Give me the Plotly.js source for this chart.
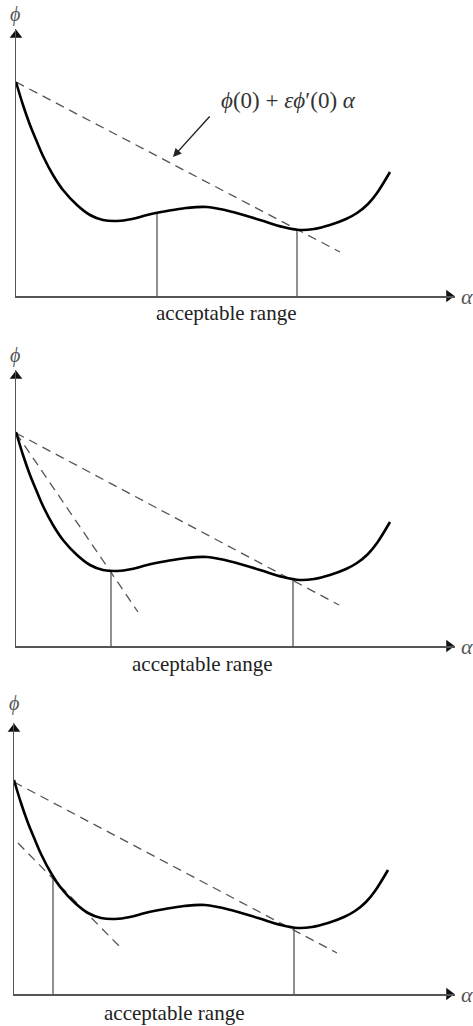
<!DOCTYPE html>
<html>
<head>
<meta charset="utf-8">
<script src="https://cdn.plot.ly/plotly-3.0.1.min.js"></script>
<style>html,body{margin:0;padding:0;background:#fff;}#chart{width:473px;height:1026px;}</style>
</head>
<body>
<div id="chart"></div>
<script>
// phi(alpha) curve (same function in all three panels)
const curveX = [0, 7, 14, 21, 27, 37, 47, 61, 74, 87, 101, 116, 131, 151, 170, 191, 217, 244, 267, 284, 298, 314, 330, 341, 352, 361, 374];
const curveY = [214, 191, 171, 154, 140, 121, 106, 91, 81, 76, 75, 77, 81, 85, 88, 89, 84, 76, 69, 66, 67, 71, 77, 83, 92, 103, 124];

// sufficient decrease line phi(0) + eps*phi'(0)*alpha
const p1LineX = [0, 324], p1LineY = [214, 44];
const p2LineX = [0, 323], p2LineY = [213, 41];
const p3LineX = [0, 323], p3LineY = [212, 41];
// curvature / tangent lines
const p2SteepX = [0, 122], p2SteepY = [213, 34];
const p3TangX = [4, 106], p3TangY = [151, 47];

// acceptable range boundaries (alpha, phi)
const p1RangeX = [141, 281], p1RangeY = [83, 66];
const p2RangeX = [95, 277], p2RangeY = [75, 66];
const p3RangeX = [39, 280], p3RangeY = [119, 66];

const rangeLabel = "acceptable range";
const formula = "<i>ϕ</i>(0) + <i>ε</i><i>ϕ</i>′(0) <i>α</i>";
const yLabel = "<i>ϕ</i>";
const xLabel = "<i>α</i>";

const W = 473, H = 1026;
const serif = '"Liberation Serif", "Times New Roman", serif';
const axisCol = '#555';

// panel geometry (pixels): origin, axis lengths, label positions
const panels = [
  {x0: 16, y0: 296, xl: 439, yl: 267, sx: '', line: [p1LineX, p1LineY], extra: null, range: [p1RangeX, p1RangeY], lab: [226, 313], phi: [15, 15]},
  {x0: 16, y0: 646, xl: 439, yl: 276, sx: '2', line: [p2LineX, p2LineY], extra: [p2SteepX, p2SteepY], range: [p2RangeX, p2RangeY], lab: [202, 664], phi: [15, 355]},
  {x0: 14, y0: 994, xl: 441, yl: 271, sx: '3', line: [p3LineX, p3LineY], extra: [p3TangX, p3TangY], range: [p3RangeX, p3RangeY], lab: [174, 1013], phi: [14, 703]}
];

const traces = [];
const layout = {
  width: W, height: H,
  margin: {l: 0, r: 0, t: 0, b: 0},
  paper_bgcolor: '#fff', plot_bgcolor: 'rgba(0,0,0,0)',
  showlegend: false,
  annotations: []
};
const px = x => x / W, py = y => 1 - y / H;

panels.forEach(p => {
  const xa = 'x' + p.sx, ya = 'y' + p.sx;
  const axCommon = {showgrid: false, zeroline: false, showticklabels: false, ticks: '', showline: true, linecolor: axisCol, linewidth: 1.5, fixedrange: true};
  layout['xaxis' + p.sx] = Object.assign({}, axCommon, {domain: [p.x0 / W, (p.x0 + p.xl) / W], range: [0, p.xl], anchor: ya});
  layout['yaxis' + p.sx] = Object.assign({}, axCommon, {domain: [(H - p.y0) / H, (H - p.y0 + p.yl) / H], range: [0, p.yl], anchor: xa});

  // dashed lines
  traces.push({x: p.line[0], y: p.line[1], xaxis: xa, yaxis: ya, mode: 'lines', line: {color: axisCol, width: 1.3, dash: '9px,6px'}, hoverinfo: 'skip'});
  if (p.extra) traces.push({x: p.extra[0], y: p.extra[1], xaxis: xa, yaxis: ya, mode: 'lines', line: {color: axisCol, width: 1.3, dash: '9px,6px'}, hoverinfo: 'skip'});
  // vertical range lines
  for (let i = 0; i < 2; i++) {
    traces.push({x: [p.range[0][i], p.range[0][i]], y: [0, p.range[1][i]], xaxis: xa, yaxis: ya, mode: 'lines', line: {color: axisCol, width: 1.3}, hoverinfo: 'skip'});
  }
  // curve
  traces.push({x: curveX, y: curveY, xaxis: xa, yaxis: ya, mode: 'lines', line: {color: '#000', width: 2.6, shape: 'spline', smoothing: 1}, hoverinfo: 'skip'});
  // arrow heads
  traces.push({x: [p.xl - 6], y: [0], xaxis: xa, yaxis: ya, mode: 'markers', marker: {symbol: 'triangle-right', size: 11, color: '#111'}, cliponaxis: false, hoverinfo: 'skip'});
  traces.push({x: [0], y: [p.yl - 6], xaxis: xa, yaxis: ya, mode: 'markers', marker: {symbol: 'triangle-up', size: 11, color: '#111'}, cliponaxis: false, hoverinfo: 'skip'});

  layout.annotations.push(
    {xref: 'paper', yref: 'paper', x: px(p.lab[0]), y: py(p.lab[1]), text: rangeLabel, showarrow: false, font: {family: serif, size: 21, color: '#222'}, xanchor: 'center', yanchor: 'middle'},
    {xref: 'paper', yref: 'paper', x: px(p.phi[0]), y: py(p.phi[1]), text: yLabel, showarrow: false, font: {family: serif, size: 20, color: '#555'}, xanchor: 'center', yanchor: 'middle'},
    {xref: 'paper', yref: 'paper', x: px(p.x0 + p.xl + 4), y: py(p.y0), text: xLabel, showarrow: false, font: {family: serif, size: 22, color: '#555'}, xanchor: 'left', yanchor: 'middle'}
  );
});

// formula label with arrow (panel 1)
layout.annotations.push(
  {xref: 'paper', yref: 'paper', x: px(288), y: py(100), text: formula, showarrow: false, font: {family: serif, size: 23, color: '#333'}, xanchor: 'center', yanchor: 'middle'},
  {xref: 'x', yref: 'y', x: 157, y: 139, ax: 38, ay: -42, text: '', showarrow: true, arrowhead: 2, arrowsize: 1.2, arrowwidth: 1.4, arrowcolor: '#222', standoff: 0}
);

Plotly.newPlot('chart', traces, layout, {staticPlot: true, displayModeBar: false});
</script>
</body>
</html>
